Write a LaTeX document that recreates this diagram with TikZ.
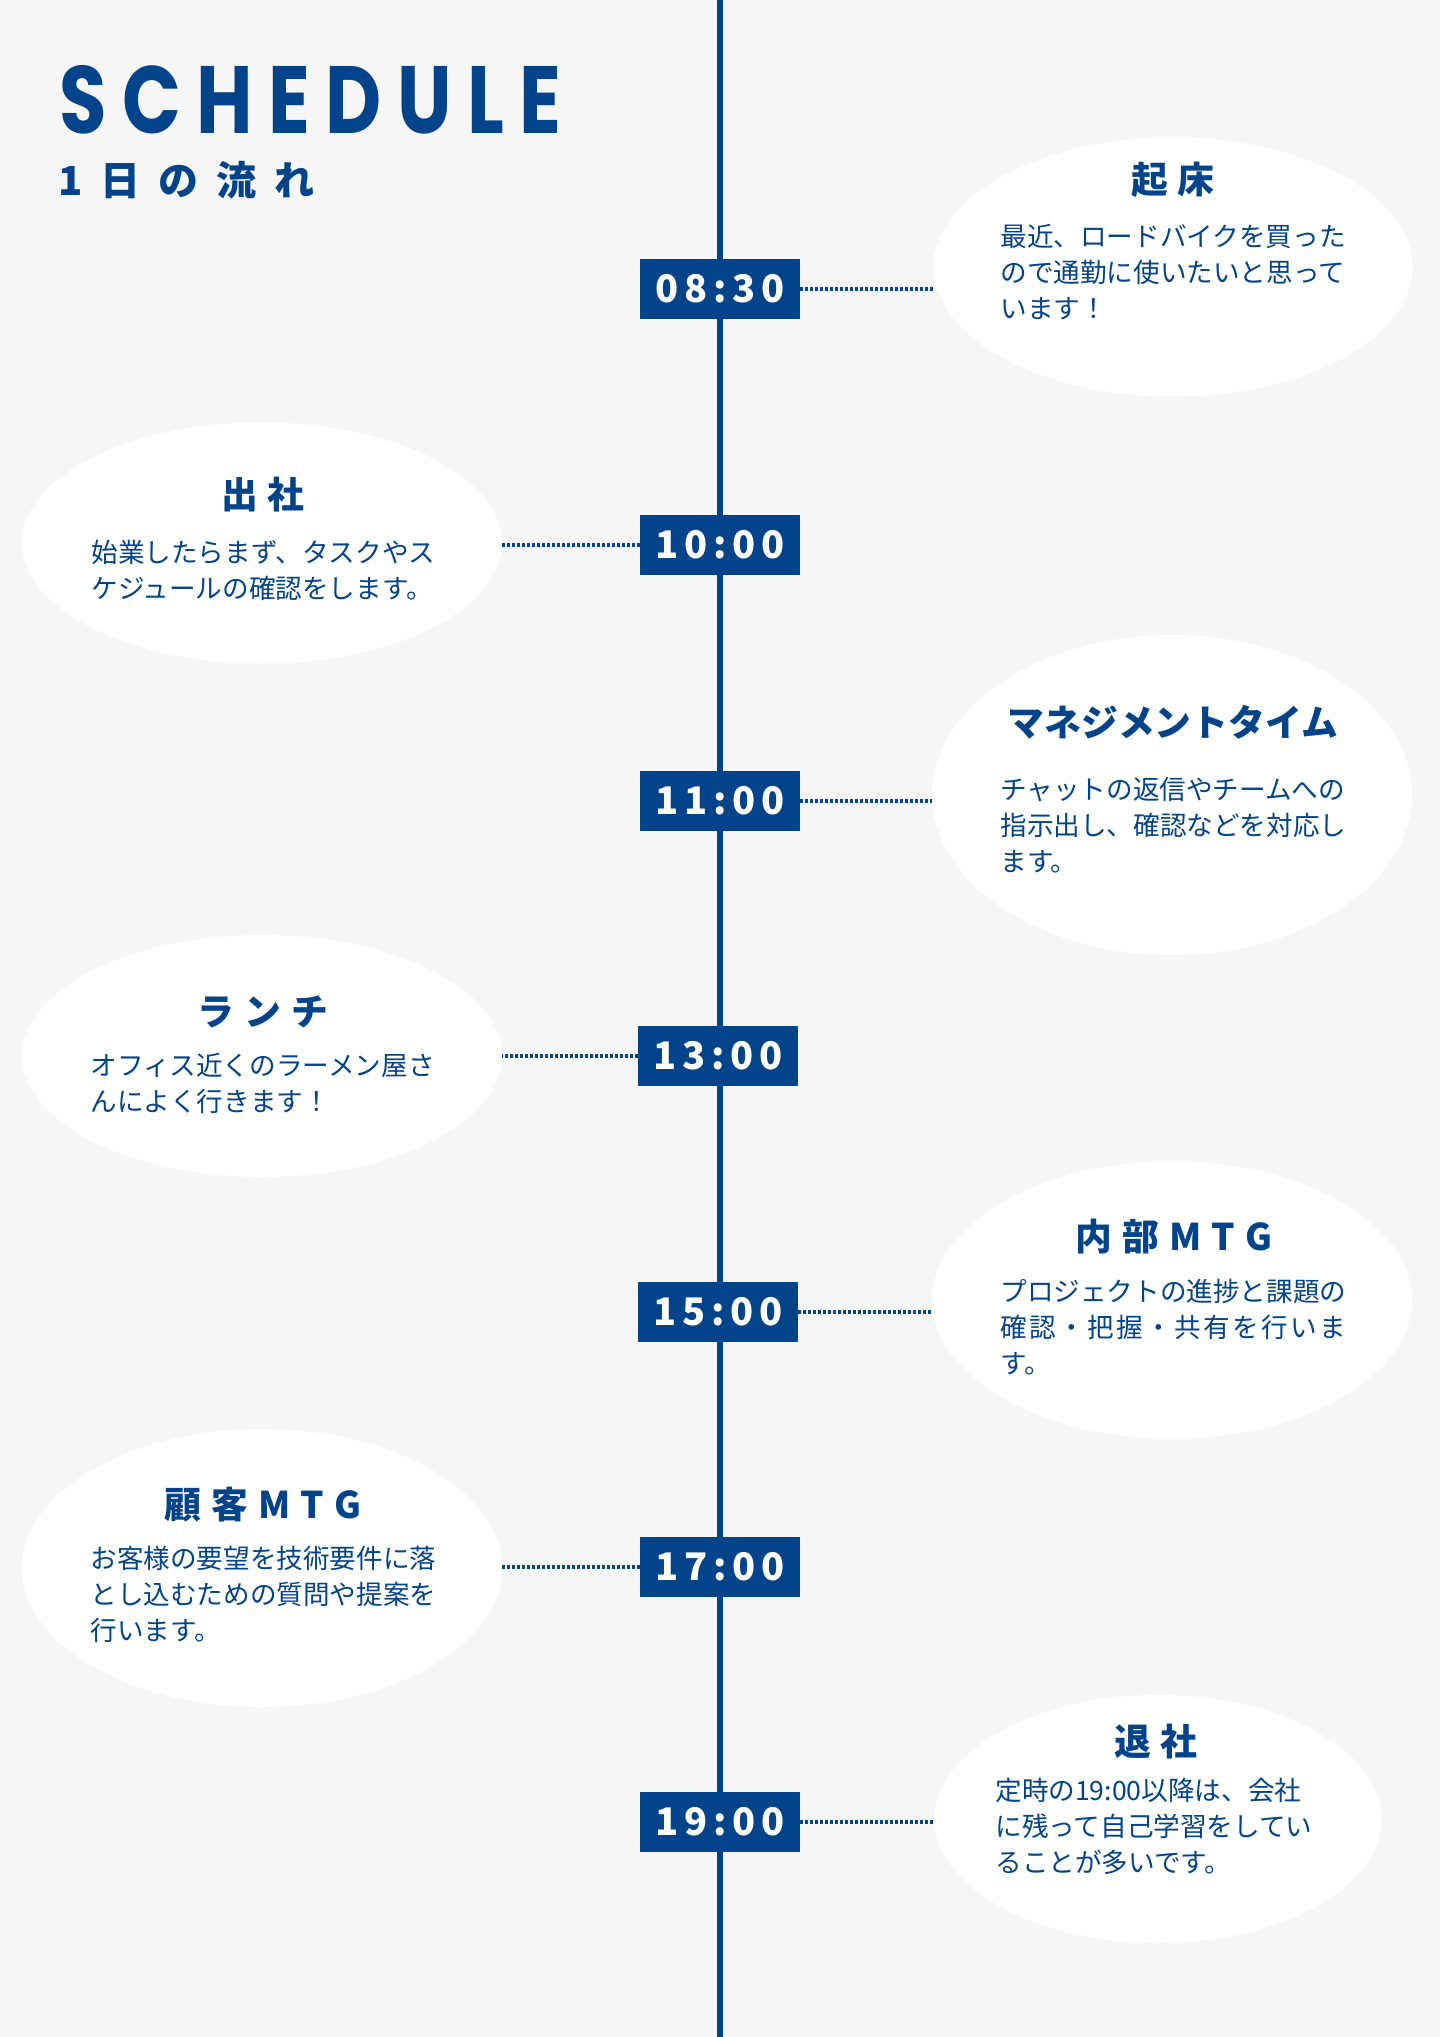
\documentclass[tikz,border=0pt]{standalone}
\usepackage{fontspec}
\usepackage{graphicx}
\usetikzlibrary{shapes.geometric}
\newfontfamily\jp{Noto Sans CJK JP}
\newfontfamily\pop{Poppins}
\definecolor{navy}{HTML}{03438A}
\definecolor{bgc}{HTML}{F6F6F6}
\newcommand\tk{\hspace{5pt}}
\newcommand\sg{\hspace{9pt}}
\newcommand\dg{\hspace{2.9pt}}
\newcommand\lk{\kern.2em}
\begin{document}
\begin{tikzpicture}[x=0.5pt,y=-0.5pt,
  bubble/.style={ellipse, fill=white, inner sep=0pt, outer sep=0pt},
  timebox/.style={rectangle, fill=navy, text=white, minimum width=80pt, minimum height=30pt, inner sep=0pt, outer sep=0pt, font=\jp\bfseries\fontsize{19pt}{19pt}\selectfont},
  ttl/.style={anchor=base, text=navy, inner sep=0pt, font=\jp\bfseries\fontsize{18.4pt}{20pt}\selectfont},
  body/.style={anchor=base west, text=navy, inner sep=0pt, font=\jp\fontsize{13.3pt}{18pt}\selectfont},
  link/.style={navy, line width=1.6pt, dash pattern=on 1.5pt off 1pt}
]
\fill[bgc] (0,0) rectangle (1440,2037);
\useasboundingbox (0,0) rectangle (1440,2037);
\coordinate (top) at (720,0);
\coordinate (bot) at (720,2037);
\draw[navy, line width=3pt] (top) -- (bot);

% title
\node[anchor=north west, inner sep=0pt, text=navy] (title) at (59,65)
  {\resizebox{251pt}{34pt}{\pop\bfseries S\lk C\lk H\lk E\lk D\lk U\lk L\lk E}};
\node[anchor=base west, inner sep=0pt, text=navy, font=\jp\bfseries\fontsize{20pt}{20pt}\selectfont] (sub) at (58,196)
  {1\sg 日\sg の\sg 流\sg れ};

% bubbles
\node[bubble, minimum width=239.5pt, minimum height=129.5pt] (e1) at (1173,267) {};
\node[bubble, minimum width=240pt, minimum height=120.5pt] (e2) at (262,543) {};
\node[bubble, minimum width=240pt, minimum height=160pt] (e3) at (1172,795) {};
\node[bubble, minimum width=240pt, minimum height=121pt] (e4) at (262,1056) {};
\node[bubble, minimum width=240pt, minimum height=138.5pt] (e5) at (1172,1300) {};
\node[bubble, minimum width=240pt, minimum height=139pt] (e6) at (262,1568) {};
\node[bubble, minimum width=223.5pt, minimum height=124pt] (e7) at (1158,1819) {};

% time boxes
\node[timebox] (b1) at (720,289) {0\dg 8\dg :\dg 3\dg 0};
\node[timebox] (b2) at (720,545) {1\dg 0\dg :\dg 0\dg 0};
\node[timebox] (b3) at (720,801) {1\dg 1\dg :\dg 0\dg 0};
\node[timebox] (b4) at (718,1056) {1\dg 3\dg :\dg 0\dg 0};
\node[timebox] (b5) at (718,1312) {1\dg 5\dg :\dg 0\dg 0};
\node[timebox] (b6) at (720,1567) {1\dg 7\dg :\dg 0\dg 0};
\node[timebox] (b7) at (720,1822) {1\dg 9\dg :\dg 0\dg 0};

% connectors
\draw[link] (b1.east) -- (b1.east -| e1.west);
\draw[link] (b2.west) -- (b2.west -| e2.east);
\draw[link] (b3.east) -- (b3.east -| e3.west);
\draw[link] (b4.west) -- (b4.west -| e4.east);
\draw[link] (b5.east) -- (b5.east -| e5.west);
\draw[link] (b6.west) -- (b6.west -| e6.east);
\draw[link] (b7.east) -- (b7.east -| e7.west);

% titles
\node[ttl] (h1) at (1173,194) {起\tk 床};
\node[ttl] (h2) at (263,509) {出\tk 社};
\node[ttl] (h3) at (1173,736) {マネジメントタイム};
\node[ttl] (h4) at (263,1025) {ラ\tk ン\tk チ};
\node[ttl] (h5) at (1174,1250) {内\tk 部\tk M\tk T\tk G};
\node[ttl] (h6) at (263,1518) {顧\tk 客\tk M\tk T\tk G};
\node[ttl] (h7) at (1156,1755) {退\tk 社};

% bodies
\node[body] (t1) at (1000,247) {\parbox[t]{200pt}{最近、ロードバイクを買った\\ので通勤に使いたいと思って\\います！}};
\node[body] (t2) at (91,562) {\parbox[t]{200pt}{始業したらまず、タスクやス\\ケジュールの確認をします。}};
\node[body] (t3) at (1000,799) {\parbox[t]{200pt}{チャットの返信やチームへの\\指示出し、確認などを対応し\\ます。}};
\node[body] (t4) at (90,1075) {\parbox[t]{200pt}{オフィス近くのラーメン屋さ\\んによく行きます！}};
\node[body] (t5) at (1000,1301) {\parbox[t]{200pt}{プロジェクトの進捗と課題の\\\hbox to 13em{確\hfil 認\hfil ・\hfil 把\hfil 握\hfil ・\hfil 共\hfil 有\hfil を\hfil 行\hfil い\hfil ま}\\す。}};
\node[body] (t6) at (90,1568) {\parbox[t]{200pt}{お客様の要望を技術要件に落\\とし込むための質問や提案を\\行います。}};
\node[body] (t7) at (995,1800) {\parbox[t]{200pt}{定時の19:00以降は、会社\\に残って自己学習をしてい\\ることが多いです。}};
\end{tikzpicture}
\end{document}
